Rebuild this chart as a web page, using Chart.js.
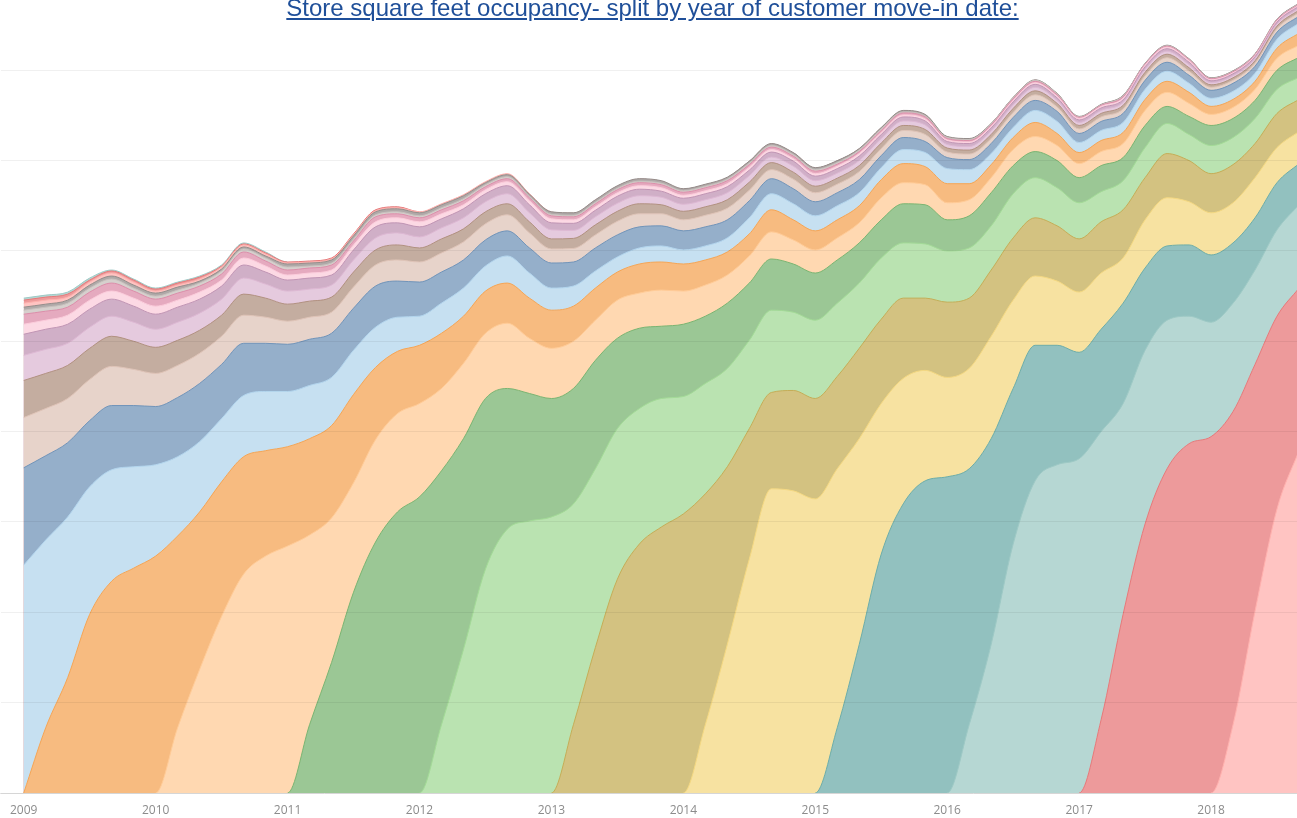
<!DOCTYPE html>
<html>
<head>
<meta charset="utf-8">
<title>Store square feet occupancy</title>
<script src="https://cdn.jsdelivr.net/npm/chart.js@4.4.1/dist/chart.umd.min.js"></script>
<style>
  html, body { margin: 0; padding: 0; background: #ffffff; }
  #wrap { position: relative; width: 1297px; height: 818px; overflow: hidden; }
  #chart { position: absolute; left: 0; top: 0; }
  #title {
    position: absolute; left: 0; top: -4px; width: 1305px;
    text-align: center; white-space: nowrap;
    font: 24px/24px "Liberation Sans", Arial, sans-serif;
    color: #1f4f99; text-decoration: underline; z-index: 2;
  }
</style>
</head>
<body>
<div id="wrap">
  <canvas id="chart" width="1297" height="818"></canvas>
  <div id="title">Store square feet occupancy- split by year of customer move-in date:</div>
</div>
<script>
// ---- data: occupied area by move-in year, sampled every two months ----
const periods = [
  '2009-01', '2009-03', '2009-05', '2009-07', '2009-09', '2009-11',
  '2010-01', '2010-03', '2010-05', '2010-07', '2010-09', '2010-11',
  '2011-01', '2011-03', '2011-05', '2011-07', '2011-09', '2011-11',
  '2012-01', '2012-03', '2012-05', '2012-07', '2012-09', '2012-11',
  '2013-01', '2013-03', '2013-05', '2013-07', '2013-09', '2013-11',
  '2014-01', '2014-03', '2014-05', '2014-07', '2014-09', '2014-11',
  '2015-01', '2015-03', '2015-05', '2015-07', '2015-09', '2015-11',
  '2016-01', '2016-03', '2016-05', '2016-07', '2016-09', '2016-11',
  '2017-01', '2017-03', '2017-05', '2017-07', '2017-09', '2017-11',
  '2018-01', '2018-03', '2018-05', '2018-07', '2018-09'
];

const yearTicks = [2009, 2010, 2011, 2012, 2013, 2014, 2015, 2016, 2017, 2018];

// cohorts that start inside the window begin at January of their move-in year
const moveIn2018 = [0, 68, 181, 283, 341];
const moveIn2017 = [0, 73, 178, 268, 323, 348, 355, 312, 246, 192, 162];
const moveIn2016 = [0, 68, 148, 248, 311, 327, 333, 287, 210, 173, 148, 127, 114, 108, 94, 86, 83];
const moveIn2015 = [0, 65, 148, 238, 288, 311, 315, 255, 205, 155, 135, 119, 106, 102, 100, 82, 74, 71, 67, 60, 52, 47, 41];
const moveIn2014 = [0, 68, 148, 233, 303, 301, 293, 258, 205, 150, 125, 110, 99, 100, 102, 88, 69, 64, 60, 56,
                    45, 48, 48, 43, 42, 40, 40, 35, 32];
const moveIn2013 = [0, 68, 145, 213, 248, 265, 278, 230, 177, 130, 96, 100, 100, 92, 90, 84, 80, 72, 75, 70,
                    66, 62, 58, 55, 53, 51, 48, 42, 44, 41, 39, 38, 34, 34, 32];
const moveIn2012 = [0, 68, 143, 223, 263, 271, 275, 220, 178, 150, 135, 128, 117, 110, 98, 88, 82, 78, 78, 73,
                    65, 61, 55, 54, 51, 50, 44, 44, 40, 38, 36, 30, 29, 30, 30, 26, 28, 27, 25, 24, 22];
const moveIn2011 = [0, 68, 130, 200, 250, 280, 295, 253, 210, 170, 140, 127, 118, 115, 108, 90, 80, 72, 72, 67,
                    65, 57, 51, 48, 47, 43, 40, 38, 39, 39, 31, 32, 33, 28, 26, 27, 25, 26, 23, 22,
                    17, 18, 20, 19, 18, 19, 20];
const moveIn2010 = [0, 65, 123, 176, 218, 236, 246, 189, 144, 109, 102, 98, 93, 82, 75, 65, 65, 55, 50, 47,
                    40, 38, 35, 36, 33, 31, 28, 27, 27, 24, 23, 22, 20, 22, 21, 20, 17, 16, 15, 16,
                    15, 15, 14, 14, 14, 15, 14, 13, 11, 11, 11, 12, 12];
const moveIn2009 = [0, 65, 115, 178, 211, 224, 236, 191, 157, 134, 117, 105, 99, 96, 92, 88, 72, 62, 58, 55,
                    47, 42, 40, 40, 38, 35, 32, 28, 29, 28, 27, 25, 23, 22, 22, 20, 19, 18, 17, 18,
                    19, 18, 19, 16, 13, 12, 14, 12, 11, 11, 11, 11, 11, 11, 8, 8, 8, 10, 12];
// older cohorts, already present in January 2009
const moveIn2008 = [227, 187, 160, 127, 111, 101, 91, 79, 70, 63, 61, 59, 55, 53, 48, 44, 40, 34, 29, 30,
                    28, 25, 27, 25, 22, 20, 17, 15, 16, 16, 14, 14, 14, 16, 16, 16, 15, 14, 13, 12,
                    14, 14, 15, 14, 11, 10, 12, 12, 10, 10, 10, 10, 10, 9, 8, 8, 8, 9, 10];
const moveIn2007 = [97, 84, 74, 66, 64, 61, 58, 59, 58, 54, 52, 48, 47, 46, 44, 42, 41, 36, 34, 31,
                    28, 26, 25, 25, 25, 24, 23, 22, 21, 20, 19, 19, 18, 17, 15, 15, 14, 13, 13, 12,
                    12, 11, 11, 10, 10, 10, 10, 10, 9, 9, 9, 9, 9, 8, 8, 8, 7, 7, 7];
const moveIn2006 = [50, 47, 44, 41, 39, 36, 33, 32, 30, 28, 28, 26, 23, 22, 21, 21, 21, 21, 20, 19,
                    18, 16, 16, 15, 14, 13.5, 13, 13.5, 13, 12, 11, 11.5, 11.5, 10.5, 9, 9.5, 9, 8.5, 8, 7,
                    7, 7, 5.5, 5.5, 5, 5, 5.5, 4.5, 4.5, 4.5, 4.5, 4.5, 4.5, 4, 3, 3, 3, 3.5, 3.5];
const moveIn2005 = [37, 35, 33, 31, 30, 28, 26, 25, 23, 21, 21, 19, 17, 16, 15, 15, 15, 15, 14, 14,
                    13, 12, 11, 11, 10, 10, 10, 10, 10, 9, 8.5, 8.5, 8.5, 8, 7, 7, 6.5, 6, 6, 5.5,
                    5, 5, 4, 4, 4, 4, 4, 3.5, 3.5, 3.5, 3.5, 3.5, 3.5, 3.5, 2.5, 2.5, 2.5, 2.5, 2.5];
const moveIn2004 = [25, 24, 22, 21, 20, 19, 18, 18, 17, 16, 16, 14, 13, 12, 12, 12, 12, 12, 11, 11,
                    11, 10, 10, 9, 9, 8, 8, 8, 8, 7.5, 7, 7, 7, 6.5, 5.5, 6, 5.5, 5, 5, 4.5,
                    4.5, 4.5, 3.5, 3.5, 3.5, 3.5, 3.5, 3, 3, 3, 3, 3, 3, 3, 2, 2, 2, 2, 2];
const moveIn2003 = [21, 20, 19, 18, 17, 16, 15, 15, 14, 13, 13, 12, 11, 11, 10, 10, 11, 10, 10, 9,
                    9, 8, 8, 8, 7, 7, 6.5, 7, 6.5, 6, 6, 6, 6, 5.5, 5, 5, 4.5, 4.5, 4.5, 4,
                    4, 4, 3, 3, 3, 3, 3, 2.5, 2.5, 2.5, 2.5, 2.5, 2.5, 2.5, 2, 2, 2, 2, 2];
const moveIn2002 = [10, 9, 9, 9, 8, 8, 8, 7, 7, 6, 7, 6, 5, 5, 5, 5, 5, 5, 5, 5,
                    4, 4, 4, 4, 4, 3.5, 3.5, 3.5, 3.5, 3.5, 3, 3, 3, 3, 2.5, 2.5, 2.5, 2.5, 2.5, 2,
                    2, 2, 1.5, 1.5, 1.5, 1.5, 1.5, 1.5, 1.5, 1.5, 1.5, 1.5, 1.5, 1.5, 1, 1, 1, 1, 1];
const moveIn2001 = [10, 9, 8, 8, 8, 7, 7, 7, 6, 6, 6, 5, 5, 5, 5, 4, 5, 4, 4, 4,
                    4, 3, 3, 3, 3, 3, 3, 3, 3, 3, 3, 3, 3, 2.5, 2.5, 2.5, 2.5, 2, 2, 2,
                    2, 2, 1.5, 1.5, 1.5, 1.5, 1.5, 1.5, 1, 1, 1.5, 1, 1, 1, 1, 1, 1, 1, 1];
const moveIn2000 = [4, 4, 4, 4, 4, 3, 3, 3, 3, 3, 3, 3, 3, 2, 2, 2, 2, 2, 2, 2,
                    2, 2, 2, 1.5, 1.5, 1.5, 1.5, 1.5, 1.5, 1.5, 1.5, 1.5, 1.5, 1.5, 1.5, 1.5, 1.5, 1.5, 1.5, 1.5,
                    1, 1, 1, 1, 1, 1, 1, 1, 0.5, 0.5, 1, 0.5, 0.5, 0.5, 0.5, 0.5, 0.5, 0.5, 0.5];
const moveIn1999 = [3, 3, 3, 3, 3, 3, 3, 3, 2, 2, 2, 2, 3, 3, 3, 3, 3, 3, 3, 3,
                    3, 2, 2, 2, 2.5, 2.5, 2.5, 2.5, 2.5, 2.5, 2, 2, 2, 2, 2, 2, 2, 2, 1.5, 1.5,
                    1.5, 1.5, 1, 1, 0.5, 0.5, 0.5, 0.5, 0.5, 0.5, 0.5, 0.5, 0.5, 0.5, 0.5, 0.5, 0.5, 0.5, 0.5];
const moveIn1998 = [4, 4, 3, 3, 3, 3, 2, 2, 2, 2, 2, 2, 1, 1, 1, 1, 1, 1, 1, 1,
                    1, 1, 1, 0.5, 0, 0, 0, 0, 0, 0, 0, 0, 0, 0, 0, 0, 0, 0, 0, 0,
                    0, 0, 0, 0, 0, 0, 0, 0, 0, 0, 0, 0, 0, 0, 0, 0, 0, 0, 0];
const moveIn1997 = [3, 3, 3, 2, 2, 2, 2, 2, 2, 1, 1, 1, 1, 1, 1, 1, 1, 1, 0, 0,
                    0, 0, 0, 0, 0, 0, 0, 0, 0, 0, 0, 0, 0, 0, 0, 0, 0, 0, 0, 0,
                    0, 0, 0, 0, 0, 0, 0, 0, 0, 0, 0, 0, 0, 0, 0, 0, 0, 0, 0];
const moveIn1996 = [2, 2, 2, 2, 1, 1, 1, 1, 1, 1, 1, 1, 0, 0, 0, 0, 0, 0, 0, 0,
                    0, 0, 0, 0, 0, 0, 0, 0, 0, 0, 0, 0, 0, 0, 0, 0, 0, 0, 0, 0,
                    0, 0, 0, 0, 0, 0, 0, 0, 0, 0, 0, 0, 0, 0, 0, 0, 0, 0, 0];

// newest cohort first so it sits at the bottom of the stack
const cohorts = [
  { label: '2018', color: '#FF9D9A', values: moveIn2018 },
  { label: '2017', color: '#E15759', values: moveIn2017 },
  { label: '2016', color: '#86BCB6', values: moveIn2016 },
  { label: '2015', color: '#499894', values: moveIn2015 },
  { label: '2014', color: '#F1CE63', values: moveIn2014 },
  { label: '2013', color: '#B6992D', values: moveIn2013 },
  { label: '2012', color: '#8CD17D', values: moveIn2012 },
  { label: '2011', color: '#59A14F', values: moveIn2011 },
  { label: '2010', color: '#FFBE7D', values: moveIn2010 },
  { label: '2009', color: '#F28E2B', values: moveIn2009 },
  { label: '2008', color: '#A0CBE8', values: moveIn2008 },
  { label: '2007', color: '#4E79A7', values: moveIn2007 },
  { label: '2006', color: '#D7B5A6', values: moveIn2006 },
  { label: '2005', color: '#9D7660', values: moveIn2005 },
  { label: '2004', color: '#D4A6C8', values: moveIn2004 },
  { label: '2003', color: '#B07AA1', values: moveIn2003 },
  { label: '2002', color: '#FABFD2', values: moveIn2002 },
  { label: '2001', color: '#D37295', values: moveIn2001 },
  { label: '2000', color: '#BAB0AC', values: moveIn2000 },
  { label: '1999', color: '#79706E', values: moveIn1999 },
  { label: '1998', color: '#FF9D9A', values: moveIn1998 },
  { label: '1997', color: '#E15759', values: moveIn1997 },
  { label: '1996', color: '#86BCB6', values: moveIn1996 }
];

// ---- helpers ----
// palette colour washed towards white, as the marks are drawn at 60% opacity
function tint(hex, a) {
  const n = parseInt(hex.slice(1), 16);
  const mix = c => Math.round(255 - (255 - c) * a);
  return `rgb(${mix((n >> 16) & 255)}, ${mix((n >> 8) & 255)}, ${mix(n & 255)})`;
}

const xValues = periods.map(p => {
  const [y, m] = p.split('-').map(Number);
  return y + (m - 1) / 12;
});

const datasets = cohorts.map(c => {
  // no occupancy before the cohort's move-in year
  const pad = new Array(periods.length - c.values.length).fill(0);
  const values = pad.concat(c.values);
  return {
    label: c.label,
    data: values.map((v, j) => ({ x: xValues[j], y: v })),
    backgroundColor: tint(c.color, 0.6),
    borderColor: tint(c.color, 0.8),
    borderWidth: 1,
    // solid fills down to the axis; lower (newer) cohorts are painted over older ones
    fill: 'origin',
    pointRadius: 0,
    pointHitRadius: 0,
    cubicInterpolationMode: 'monotone',
    segment: {
      borderColor: ctx => (ctx.p0.parsed.y === 0 && ctx.p1.parsed.y === 0) ? 'rgba(0,0,0,0)' : undefined
    }
  };
});

// ---- chart ----
new Chart(document.getElementById('chart'), {
  type: 'line',
  data: { datasets: datasets },
  options: {
    responsive: false,
    animation: false,
    devicePixelRatio: 1,
    layout: { padding: 0 },
    plugins: {
      legend: { display: false },
      tooltip: { enabled: false },
      title: { display: false }
    },
    scales: {
      x: {
        type: 'linear',
        min: 2008.8258,
        max: 2018.6515,
        grid: { display: false, drawTicks: false },
        border: { display: true, color: '#e4e4e4' },
        afterFit: scale => { scale.height = 25; },
        afterBuildTicks: scale => { scale.ticks = yearTicks.map(v => ({ value: v })); },
        ticks: {
          padding: 10,
          color: '#8c8c8c',
          font: { family: "'Open Sans', sans-serif", size: 12 },
          callback: value => String(value),
          maxRotation: 0
        }
      },
      y: {
        stacked: true,
        min: 0,
        max: 790,
        grid: { color: 'rgba(0, 0, 0, 0.06)', drawTicks: false, z: 1 },
        border: { display: false },
        afterFit: scale => { scale.width = 0; },
        ticks: { display: false, stepSize: 90, includeBounds: false }
      }
    }
  }
});
</script>
</body>
</html>
